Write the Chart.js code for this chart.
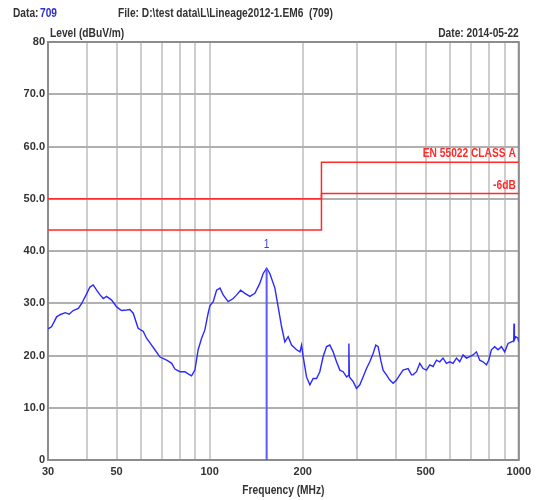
<!DOCTYPE html>
<html>
<head>
<meta charset="utf-8">
<script src="https://cdn.jsdelivr.net/npm/chart.js@4.4.0/dist/chart.umd.min.js"></script>
<style>
body { margin:0; background:#fff; }
#wrap { width:536px; height:500px; }
</style>
</head>
<body>
<div id="wrap"><canvas id="emiChart" width="536" height="500"></canvas></div>
<script>
var freqMHz = [30.0,30.8,32.0,32.8,34.1,35.1,36.2,37.6,38.6,40.0,41.0,42.0,43.1,44.2,45.3,46.4,48.2,50.0,51.9,53.9,
	55.2,56.6,58.7,61.0,62.5,64.9,66.5,69.1,72.6,75.4,77.2,80.2,83.2,85.2,87.4,89.6,91.8,94.2,96.5,98.9,
	100.2,102.7,105.3,108.0,110.6,114.8,119.2,122.3,126.0,130.0,135.0,140.1,145.3,149.0,152.9,156.6,162.6,166.6,170.9,175.1,
	179.5,184.1,191.1,196.0,198.3,200.7,205.8,211.0,216.2,221.7,227.2,232.9,238.9,244.8,250.9,257.3,263.8,270.3,277.3,281.0,
	282.1,283.2,291.3,298.6,306.0,313.6,321.7,329.7,337.9,344.8,350.8,357.8,364.0,373.3,382.6,392.2,402.2,412.2,422.4,438.5,
	449.8,455.1,466.8,478.4,490.3,502.9,515.3,528.2,541.7,555.2,568.9,583.5,598.0,613.0,628.7,644.2,660.3,677.3,694.1,711.3,
	729.6,747.7,766.4,786.0,799.5,815.7,836.0,857.0,878.9,900.6,923.1,946.8,963.0,965.3,968.0,977.7,994.5,1000];
var levelDb = [25.1,25.5,27.4,27.8,28.2,27.9,28.6,29.0,30.0,31.8,33.1,33.5,32.5,31.6,30.9,31.3,30.6,29.3,28.6,28.7,
	28.8,28.1,25.2,24.6,23.3,22.0,21.1,19.7,19.1,18.5,17.4,16.9,16.9,16.5,16.1,17.2,21.1,23.3,24.9,28.1,
	29.5,30.3,32.5,32.9,31.6,30.3,30.9,31.6,32.5,31.9,31.3,31.9,33.8,35.7,36.7,35.7,32.9,29.3,25.5,22.6,
	23.6,22.0,21.1,20.7,22.0,19.8,15.9,14.4,15.6,15.6,16.9,19.8,21.7,22.0,20.7,18.8,17.2,16.9,15.9,16.2,
	22.3,15.9,15.0,13.7,14.4,15.9,17.5,18.8,20.4,22.0,21.7,19.1,17.2,16.3,15.3,14.7,15.3,16.3,17.2,17.5,
	16.3,16.3,16.9,18.5,17.5,17.2,18.2,17.9,19.1,18.8,19.5,18.5,18.8,18.5,19.5,18.8,20.1,19.5,19.8,20.1,
	20.7,19.1,18.8,18.2,19.1,21.1,21.7,21.1,21.7,20.7,22.3,22.6,22.8,26.1,23.0,23.6,23.3,22.6];

// limit lines
var limitFreq = [30, 230, 230, 1000];
var classALimit = [50, 50, 57, 57];
var minus6Limit = [44, 44, 51, 51];

// marker 1
var markerFreq = 152.9;
var markerLevel = 36.7;

var xGridTicks = [30,40,50,60,70,80,90,100,200,300,400,500,600,700,800,900,1000];
var xTickLabels = [30,50,100,200,500,1000];

var FONT = "'Liberation Sans', Arial, sans-serif";
var BLUE = '#2a2aff';
var RED = '#ff2a2a';

function pts(xs, ys) {
	return xs.map(function(x, i){ return {x: x, y: ys[i]}; });
}

// narrow text, like the original print-out font
function narrowText(ctx, txt, x, y, align) {
	ctx.save();
	ctx.translate(x, y);
	ctx.scale(0.85, 1);
	ctx.textAlign = align;
	ctx.fillText(txt, 0, 0);
	ctx.restore();
}

var textPlugin = {
	id: 'emiText',
	beforeDatasetsDraw: function(chart) {
		var a = chart.chartArea, ctx = chart.ctx;
		ctx.save();
		ctx.strokeStyle = '#8c8c8c';
		ctx.lineWidth = 2;
		ctx.strokeRect(a.left, a.top, a.right - a.left, a.bottom - a.top);
		ctx.restore();
	},
	afterDraw: function(chart) {
		var ctx = chart.ctx, a = chart.chartArea;
		var xs = chart.scales.x, ys = chart.scales.y;
		ctx.save();
		ctx.textBaseline = 'alphabetic';
		ctx.font = 'bold 12px ' + FONT;
		ctx.fillStyle = '#333';
		narrowText(ctx, 'Data:', 13, 17, 'left');
		ctx.fillStyle = '#3030d0';
		narrowText(ctx, '709', 40, 17, 'left');
		ctx.fillStyle = '#333';
		narrowText(ctx, 'File: D:\\test data\\L\\Lineage2012-1.EM6  (709)', 118, 17, 'left');
		narrowText(ctx, 'Level (dBuV/m)', 50, 37, 'left');
		narrowText(ctx, 'Date: 2014-05-22', a.right, 37, 'right');
		narrowText(ctx, 'Frequency (MHz)', (a.left + a.right) / 2, 494, 'center');

		ctx.fillStyle = RED;
		narrowText(ctx, 'EN 55022 CLASS A', a.right - 3, ys.getPixelForValue(57) - 5, 'right');
		narrowText(ctx, '-6dB', a.right - 3, ys.getPixelForValue(51) - 5, 'right');

		ctx.fillStyle = '#4040e0';
		ctx.font = '12px ' + FONT;
		narrowText(ctx, '1', xs.getPixelForValue(markerFreq), ys.getPixelForValue(markerLevel) - 20, 'center');
		ctx.restore();
	}
};

new Chart(document.getElementById('emiChart'), {
	type: 'line',
	data: {
		datasets: [
			{ data: pts(limitFreq, classALimit), borderColor: RED, borderWidth: 1.5, pointRadius: 0, tension: 0 },
			{ data: pts(limitFreq, minus6Limit), borderColor: RED, borderWidth: 1.5, pointRadius: 0, tension: 0 },
			{ data: pts([markerFreq, markerFreq], [0, markerLevel]), borderColor: '#5a5aff', borderWidth: 2, pointRadius: 0 },
			{ data: pts(freqMHz, levelDb), borderColor: BLUE, borderWidth: 1.4, pointRadius: 0, tension: 0 }
		]
	},
	options: {
		responsive: false,
		animation: false,
		layout: { padding: { top: 42, right: 17, left: 0, bottom: 0 } },
		plugins: { legend: { display: false }, tooltip: { enabled: false } },
		scales: {
			x: {
				type: 'logarithmic',
				min: 30, max: 1000,
				afterBuildTicks: function(axis) {
					axis.ticks = xGridTicks.map(function(v){ return {value: v}; });
				},
				afterFit: function(scale) { scale.height = 40; },
				border: { display: false },
				grid: { color: '#cdcdcd', lineWidth: 2, drawTicks: false },
				ticks: {
					autoSkip: false, maxRotation: 0, padding: 5,
					color: '#333', font: { family: FONT, size: 11, weight: 'bold' },
					callback: function(v) { return xTickLabels.indexOf(v) >= 0 ? String(v) : ''; }
				}
			},
			y: {
				min: 0, max: 80,
				afterFit: function(scale) { scale.width = 48; },
				border: { display: false },
				grid: { color: '#b0b0b0', lineWidth: 2, drawTicks: false },
				ticks: {
					stepSize: 10, padding: 3,
					color: '#333', font: { family: FONT, size: 11, weight: 'bold' },
					callback: function(v) { return (v === 0 || v === 80) ? String(v) : v.toFixed(1); }
				}
			}
		}
	},
	plugins: [textPlugin]
});
</script>
</body>
</html>
